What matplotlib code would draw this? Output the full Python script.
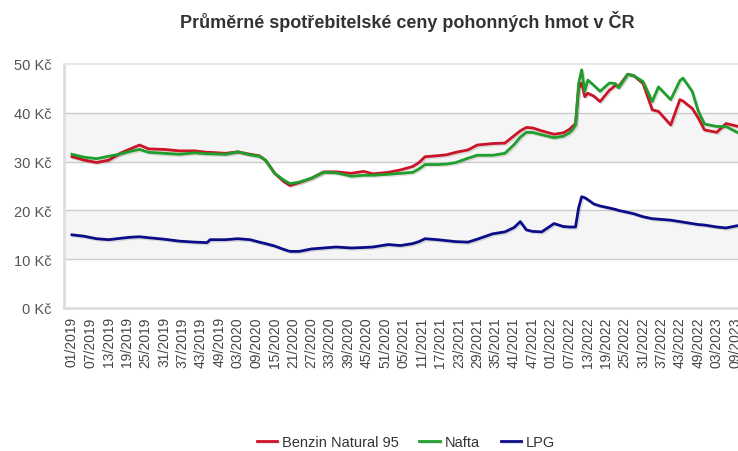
"""Average consumer fuel prices in the Czech Republic, weekly."""

import matplotlib.pyplot as plt
import matplotlib.patheffects as pe

# week index (0 = week 01/2019) of each read point
week_idx = [0, 4, 8, 12, 16, 19, 22, 25, 30, 35, 40, 44, 45, 50, 54, 58, 61, 63,
            66, 69, 71, 74, 78, 82, 86, 91, 95, 98, 103, 107, 111, 113, 115, 119,
            122, 125, 129, 132, 137, 141, 144, 146, 148, 150, 153, 157, 160, 162,
            163, 164, 165, 166, 167, 168, 170, 172, 175, 177, 178, 181, 183, 186,
            189, 191, 195, 198, 199, 202, 204, 206, 210, 213, 217]

benzin = [31.0, 30.3, 29.8, 30.3, 31.8, 32.6, 33.4, 32.6, 32.5, 32.2, 32.2, 31.9,
          31.9, 31.7, 32.0, 31.5, 31.2, 30.3, 27.6, 25.9, 25.1, 25.7, 26.6, 27.9,
          27.9, 27.6, 28.0, 27.5, 27.8, 28.3, 29.0, 29.8, 31.0, 31.2, 31.4, 31.9,
          32.4, 33.4, 33.7, 33.8, 35.3, 36.3, 37.0, 36.9, 36.3, 35.6, 35.9, 36.6,
          37.2, 37.8, 45.0, 46.1, 43.3, 44.0, 43.4, 42.3, 44.6, 45.6, 45.4, 47.9,
          47.6, 46.0, 40.6, 40.3, 37.5, 42.7, 42.4, 40.9, 38.9, 36.5, 36.0, 37.8,
          37.2]

nafta = [31.5, 30.9, 30.6, 31.1, 31.6, 32.1, 32.5, 31.9, 31.7, 31.5, 31.8, 31.6,
         31.6, 31.5, 32.0, 31.4, 31.1, 30.3, 27.6, 26.2, 25.5, 25.8, 26.6, 27.8,
         27.7, 27.0, 27.2, 27.2, 27.4, 27.6, 27.8, 28.5, 29.4, 29.4, 29.5, 29.8,
         30.7, 31.3, 31.3, 31.7, 33.5, 35.0, 36.0, 36.0, 35.5, 34.9, 35.2, 35.9,
         36.5, 37.5, 46.0, 48.8, 44.4, 46.7, 45.6, 44.4, 46.1, 46.0, 45.1, 47.9,
         47.6, 46.4, 42.3, 45.3, 42.7, 46.6, 47.1, 44.4, 40.3, 37.7, 37.2, 37.2,
         35.9]

lpg = [15.0, 14.7, 14.2, 14.0, 14.3, 14.5, 14.6, 14.4, 14.1, 13.7, 13.5, 13.4,
       14.0, 14.0, 14.2, 14.0, 13.5, 13.2, 12.7, 12.0, 11.6, 11.6, 12.1, 12.3,
       12.5, 12.3, 12.4, 12.5, 13.0, 12.8, 13.2, 13.6, 14.2, 14.0, 13.8, 13.6,
       13.5, 14.1, 15.2, 15.6, 16.5, 17.7, 16.0, 15.7, 15.6, 17.3, 16.7, 16.6,
       16.6, 16.6, 20.5, 22.8, 22.6, 22.2, 21.3, 20.9, 20.5, 20.2, 20.0, 19.6,
       19.3, 18.7, 18.3, 18.2, 18.0, 17.7, 17.6, 17.3, 17.1, 17.0, 16.6, 16.4,
       16.9]

tick_labels = ["01/2019", "07/2019", "13/2019", "19/2019", "25/2019", "31/2019",
               "37/2019", "43/2019", "49/2019", "03/2020", "09/2020", "15/2020",
               "21/2020", "27/2020", "33/2020", "39/2020", "45/2020", "51/2020",
               "05/2021", "11/2021", "17/2021", "23/2021", "29/2021", "35/2021",
               "41/2021", "47/2021", "01/2022", "07/2022", "13/2022", "19/2022",
               "25/2022", "31/2022", "37/2022", "43/2022", "49/2022", "03/2023",
               "09/2023"]
tick_step = 6

y_ticks = [0, 10, 20, 30, 40, 50]

series = [
    ("Benzin Natural 95", benzin, "#cc1428"),
    ("Nafta", nafta, "#1f9e2c"),
    ("LPG", lpg, "#0c0c8a"),
]

plt.rcParams["font.family"] = ["Liberation Sans", "DejaVu Sans"]

fig = plt.figure(figsize=(7.38, 4.52), dpi=100)
# plot area runs off the right edge of the picture, as in the original
ax = fig.add_axes([64 / 738, (452 - 309) / 452, (745 - 64) / 738, 244 / 452])

ax.axhspan(30, 40, color="#f5f5f5", zorder=0)
ax.axhspan(10, 20, color="#f5f5f5", zorder=0)
for y in y_ticks[1:-1]:
    ax.axhline(y, color="#cccccc", lw=1, zorder=1)

shadow = [pe.SimpleLineShadow(offset=(1, -1), alpha=0.12, shadow_color="black"),
          pe.Normal()]
for name, values, color in series:
    ax.plot(week_idx, values, color=color, lw=2, label=name, zorder=3,
            path_effects=shadow, solid_joinstyle="round")

ax.set_ylim(0, 50)
ax.set_xlim(-2.6, 219.2)
ax.set_yticks(y_ticks)
ax.set_yticklabels([f"{v} Kč" for v in y_ticks])
ax.set_xticks([i * tick_step for i in range(len(tick_labels))])
ax.set_xticklabels(tick_labels, rotation=90)
ax.tick_params(axis="y", length=0, pad=9, labelsize=10.5, labelcolor="#555555")
ax.tick_params(axis="x", length=0, pad=6, labelsize=10, labelcolor="#444444")

for side in ["left", "bottom"]:
    ax.spines[side].set_color("#dddddd")
    ax.spines[side].set_linewidth(2)
ax.spines["top"].set_color("#e8e8e8")
ax.spines["top"].set_linewidth(1.5)
ax.spines["right"].set_visible(False)

fig.text(407 / 738, 1 - 22 / 452, "Průměrné spotřebitelské ceny pohonných hmot v ČR",
         ha="center", va="center", fontsize=13, fontweight="bold", color="#333333")

handles, labels = ax.get_legend_handles_labels()
fig.legend(handles, labels, loc="center", bbox_to_anchor=(406 / 738, 1 - 443 / 452),
           ncol=3, frameon=False, fontsize=10.5, handlelength=1.4, columnspacing=1.4,
           handletextpad=0.35, labelcolor="#333333")

fig.savefig("out.png", dpi=100)
